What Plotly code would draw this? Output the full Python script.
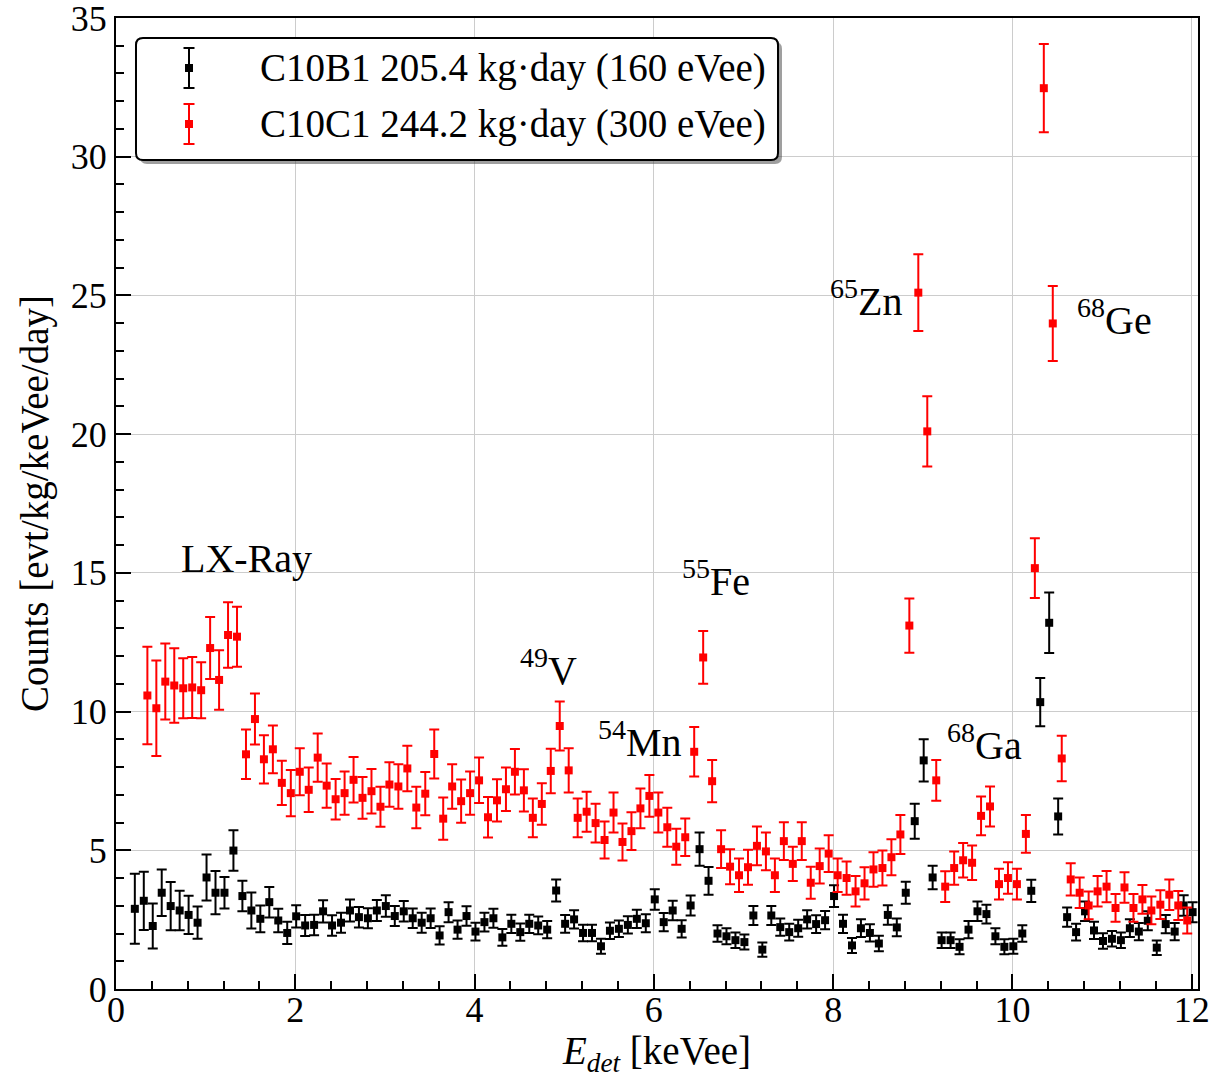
import plotly.graph_objects as go

# ---------------- data ----------------
black_x = [round(0.21 + 0.1 * i, 2) for i in range(119)]
black_y = [
    2.89, 3.18, 2.27, 3.47, 2.99, 2.83, 2.67, 2.39, 4.02, 3.47, 3.47, 4.99, 3.35, 2.83, 2.53, 3.13, 2.47, 2.02, 2.62,
    2.29, 2.31, 2.80, 2.29, 2.39, 2.83, 2.59, 2.55, 2.83, 2.99, 2.63, 2.80, 2.55, 2.39, 2.55, 1.93, 2.77, 2.14, 2.63, 2.07,
    2.41, 2.55, 1.86, 2.35, 2.05, 2.35, 2.29, 2.14, 3.55, 2.35, 2.51, 2.02, 2.02, 1.54, 2.10, 2.17, 2.31, 2.53, 2.37, 3.23,
    2.41, 2.83, 2.17, 3.01, 5.04, 3.90, 2.00, 1.90, 1.76, 1.69, 2.65, 1.42, 2.65, 2.23, 2.05, 2.19, 2.51, 2.34, 2.48, 3.35,
    2.35, 1.57, 2.19, 2.02, 1.64, 2.67, 2.22, 3.47, 6.05, 8.24, 4.02, 1.76, 1.76, 1.52, 2.14, 2.80, 2.70, 1.90, 1.52, 1.54,
    2.00, 3.54, 10.34, 13.20, 6.22, 2.59, 2.05, 2.80, 2.11, 1.73, 1.81, 1.76, 2.19, 2.07, 2.46, 1.49, 2.34, 2.07, 3.01, 2.77,
]
black_err = [
    1.26, 1.05, 0.81, 0.84, 0.87, 0.71, 0.69, 0.58, 0.83, 0.78, 0.57, 0.73, 0.55, 0.65, 0.48, 0.55, 0.42, 0.40, 0.40,
    0.38, 0.37, 0.40, 0.37, 0.36, 0.40, 0.37, 0.36, 0.38, 0.39, 0.36, 0.37, 0.35, 0.36, 0.35, 0.33, 0.36, 0.33, 0.35, 0.32,
    0.34, 0.34, 0.30, 0.33, 0.31, 0.33, 0.32, 0.31, 0.40, 0.32, 0.33, 0.30, 0.30, 0.27, 0.30, 0.30, 0.31, 0.33, 0.32, 0.37,
    0.33, 0.35, 0.31, 0.36, 0.60, 0.50, 0.30, 0.29, 0.28, 0.27, 0.34, 0.26, 0.34, 0.31, 0.30, 0.31, 0.33, 0.32, 0.33, 0.39,
    0.33, 0.27, 0.32, 0.31, 0.28, 0.35, 0.32, 0.40, 0.63, 0.76, 0.42, 0.28, 0.28, 0.27, 0.31, 0.35, 0.34, 0.29, 0.27, 0.27,
    0.30, 0.40, 0.87, 1.09, 0.65, 0.35, 0.30, 0.35, 0.31, 0.28, 0.28, 0.28, 0.32, 0.31, 0.34, 0.26, 0.33, 0.31, 0.37, 0.36,
]

red_x = [round(0.35 + 0.1 * i, 2) for i in range(117)]
red_y = [
    10.58, 10.12, 11.08, 10.94, 10.84, 10.87, 10.77, 12.29, 11.14, 12.76, 12.70, 8.46, 9.73, 8.28, 8.64, 7.43, 7.06,
    7.83, 7.18, 8.34, 7.33, 6.84, 7.06, 7.54, 6.89, 7.13, 6.57, 7.37, 7.30, 7.95, 6.54, 7.04, 8.47, 6.14, 7.30, 6.77, 7.06,
    7.52, 6.19, 6.80, 7.20, 7.83, 7.16, 6.17, 6.67, 7.86, 9.48, 7.88, 6.17, 6.39, 5.98, 5.37, 6.36, 5.30, 5.69, 6.51, 6.96,
    6.36, 5.83, 5.13, 5.47, 8.55, 11.95, 7.49, 5.04, 4.41, 4.10, 4.39, 5.16, 4.96, 4.10, 5.33, 4.51, 5.33, 3.83, 4.43, 4.88,
    4.10, 4.00, 3.52, 3.81, 4.31, 4.36, 4.75, 5.57, 13.10, 25.10, 20.10, 7.52, 3.69, 4.36, 4.64, 4.55, 6.24, 6.58, 3.78, 4.00,
    3.78, 5.59, 15.17, 32.47, 23.99, 8.31, 3.95, 3.47, 3.01, 3.52, 3.69, 2.92, 3.66, 2.92, 3.23, 2.83, 3.04, 3.40, 3.01, 2.47,
]
red_err = [
    1.76, 1.72, 1.37, 1.34, 1.08, 1.10, 1.01, 1.12, 1.07, 1.18, 1.08, 0.89, 0.92, 0.87, 0.86, 0.80, 0.83,
    0.85, 0.80, 0.87, 0.80, 0.73, 0.78, 0.82, 0.75, 0.80, 0.72, 0.80, 0.80, 0.82, 0.75, 0.78, 0.88, 0.76, 0.80, 0.78, 0.78,
    0.82, 0.73, 0.76, 0.78, 0.82, 0.76, 0.70, 0.75, 0.80, 0.88, 0.80, 0.70, 0.72, 0.70, 0.67, 0.72, 0.67, 0.68, 0.72, 0.75,
    0.72, 0.70, 0.65, 0.68, 0.89, 0.95, 0.76, 0.68, 0.63, 0.60, 0.63, 0.70, 0.68, 0.60, 0.68, 0.62, 0.68, 0.58, 0.63, 0.66,
    0.60, 0.60, 0.55, 0.58, 0.62, 0.63, 0.65, 0.70, 0.98, 1.38, 1.27, 0.73, 0.55, 0.60, 0.62, 0.62, 0.70, 0.72, 0.55, 0.57,
    0.55, 0.68, 1.08, 1.59, 1.35, 0.82, 0.58, 0.55, 0.50, 0.55, 0.56, 0.50, 0.55, 0.50, 0.52, 0.50, 0.52, 0.55, 0.52, 0.47,
]

series_names = ["C10B1 205.4 kg·day (160 eVee)", "C10C1 244.2 kg·day (300 eVee)"]
series_colors = ["#000000", "#ff0000"]

peak_labels = ["LX-Ray", "<sup>49</sup>V", "<sup>54</sup>Mn", "<sup>55</sup>Fe",
               "<sup>65</sup>Zn", "<sup>68</sup>Ge", "<sup>68</sup>Ga"]
peak_label_x = [1.46, 4.82, 5.85, 6.69, 8.37, 11.14, 9.69]
peak_label_y = [15.5, 11.6, 9.0, 14.8, 24.9, 24.2, 8.9]

x_ticks = [0, 2, 4, 6, 8, 10, 12]
y_ticks = [0, 5, 10, 15, 20, 25, 30, 35]

FONT = "Liberation Serif, Times New Roman, serif"

# ---------------- figure ----------------
W, H = 1219, 1078
ML, MR, MT, MB = 116, 21, 18, 89
PW, PH = W - ML - MR, H - MT - MB


def px(x):
    return (x - ML) / PW


def py(y):
    return (H - MB - y) / PH


def rounded_rect_path(x0, y0, x1, y1, r):
    # pixel box -> paper-coordinate SVG path with rounded corners
    pts = [
        ("M", x0 + r, y0), ("L", x1 - r, y0), ("Q", x1, y0, x1, y0 + r),
        ("L", x1, y1 - r), ("Q", x1, y1, x1 - r, y1), ("L", x0 + r, y1),
        ("Q", x0, y1, x0, y1 - r), ("L", x0, y0 + r), ("Q", x0, y0, x0 + r, y0),
    ]
    out = []
    for p in pts:
        cmd = p[0]
        coords = p[1:]
        s = " ".join(f"{px(coords[i]):.5f},{py(coords[i + 1]):.5f}" for i in range(0, len(coords), 2))
        out.append(f"{cmd} {s}")
    return " ".join(out) + " Z"


fig = go.Figure()
for xs, ys, es, name, col in [
    (black_x, black_y, black_err, series_names[0], series_colors[0]),
    (red_x, red_y, red_err, series_names[1], series_colors[1]),
]:
    fig.add_trace(go.Scatter(
        x=xs, y=ys, mode="markers", name=name,
        marker=dict(symbol="square", size=8, color=col),
        error_y=dict(type="data", array=es, color=col, thickness=2, width=5),
    ))

for t, x, y in zip(peak_labels, peak_label_x, peak_label_y):
    fig.add_annotation(x=x, y=y, text=t, showarrow=False, xanchor="center", yanchor="middle",
                       font=dict(family=FONT, size=40, color="black"))

# ---- custom legend (rounded box with shadow + error-bar glyphs) ----
bx0, bx1, by0, by1 = 136, 778, 38, 160
fig.add_shape(type="path", xref="paper", yref="paper",
              path=rounded_rect_path(bx0 + 4, by0 + 4, bx1 + 4, by1 + 4, 7),
              line=dict(width=0), fillcolor="rgba(80,80,80,0.55)", layer="above")
fig.add_shape(type="path", xref="paper", yref="paper",
              path=rounded_rect_path(bx0, by0, bx1, by1, 7),
              line=dict(color="black", width=2), fillcolor="white", layer="above")
rows = [68, 124]
for r, name, col in zip(rows, series_names, series_colors):
    gx = 189
    fig.add_shape(type="line", xref="paper", yref="paper", x0=px(gx), x1=px(gx),
                  y0=py(r - 20), y1=py(r + 20), line=dict(color=col, width=2), layer="above")
    for cy in (r - 20, r + 20):
        fig.add_shape(type="line", xref="paper", yref="paper", x0=px(gx - 5.5), x1=px(gx + 5.5),
                      y0=py(cy), y1=py(cy), line=dict(color=col, width=2), layer="above")
    fig.add_shape(type="rect", xref="paper", yref="paper", x0=px(gx - 4), x1=px(gx + 4),
                  y0=py(r + 4), y1=py(r - 4), line=dict(width=0), fillcolor=col, layer="above")
    fig.add_annotation(xref="paper", yref="paper", x=px(258), y=py(r), text=name, showarrow=False,
                       xanchor="left", yanchor="middle", font=dict(family=FONT, size=39, color="black"))

axis_common = dict(
    showline=True, linecolor="black", linewidth=2, mirror=True,
    ticks="inside", tickcolor="black", tickwidth=1.5, ticklen=15,
    showgrid=True, gridcolor="#cccccc", gridwidth=1, zeroline=False,
    tickfont=dict(family=FONT, size=36, color="black"),
    ticklabeloverflow="allow",
)
fig.update_xaxes(
    range=[0, 12.07], tickvals=x_ticks, ticktext=[str(v) for v in x_ticks],
    minor=dict(dtick=0.4, tick0=0, ticks="inside", ticklen=8, tickcolor="black", tickwidth=1.5, showgrid=False),
    title=dict(text="<i>E<sub>det</sub></i> [keVee]", font=dict(family=FONT, size=39, color="black"), standoff=20),
    ticklabelstandoff=-12, automargin=False, **axis_common,
)
fig.update_yaxes(
    range=[0, 35], tickvals=y_ticks, ticktext=[str(v) for v in y_ticks],
    minor=dict(dtick=1, tick0=0, ticks="inside", ticklen=8, tickcolor="black", tickwidth=1.5, showgrid=False),
    title=dict(text="Counts [evt/kg/keVee/day]", font=dict(family=FONT, size=39, color="black"), standoff=10),
    ticklabelstandoff=0, automargin=False, **axis_common,
)
fig.update_layout(
    width=W, height=H, margin=dict(l=ML, r=MR, t=MT, b=MB),
    plot_bgcolor="white", paper_bgcolor="white", showlegend=False,
    font=dict(family=FONT, color="black"),
)
fig.write_html("out.html")
